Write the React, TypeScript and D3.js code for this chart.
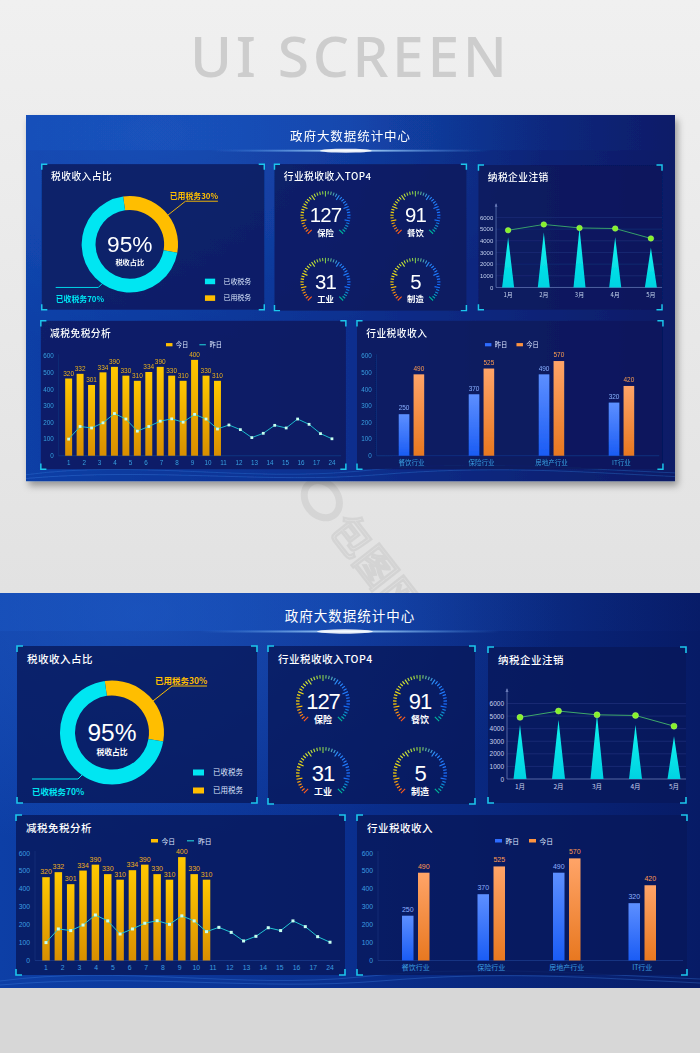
import React from 'react';
import * as d3 from 'd3';

// ---------- data ----------
const PAGE_TITLE = 'UI SCREEN';
const DASH_TITLE = '政府大数据统计中心';

const SHARE_NAMES = ['已用税务', '已收税务'];
const SHARE_VALUES = [30, 70];
const SHARE_CENTER = '95%';

const GAUGE_VALUES = [127, 91, 31, 5];
const GAUGE_LABELS = ['保险', '餐饮', '工业', '制造'];

const MONTHS = ['1月', '2月', '3月', '4月', '5月'];
const CANCEL_BARS = [4300, 4700, 5100, 4300, 3400];
const CANCEL_LINE = [4900, 5400, 5100, 5050, 4200];
const CANCEL_TICKS = [0, 1000, 2000, 3000, 4000, 5000, 6000];

const REDUCE_X_LABELS = ['1', '2', '3', '4', '5', '6', '7', '8', '9', '10', '11', '12', '13', '14', '15', '16', '17', '24'];
const REDUCE_TODAY = [465, 493, 426, 502, 535, 482, 451, 504, 535, 482, 451, 577, 482, 451];
const REDUCE_TODAY_LABELS = [320, 332, 301, 334, 390, 330, 310, 334, 390, 330, 310, 400, 330, 310];
const REDUCE_YESTERDAY = [100, 176, 167, 198, 254, 221, 148, 176, 208, 222, 202, 249, 221, 161, 185, 157, 109, 135, 183, 167, 221, 189, 133, 102];
const Y_TICKS = [0, 100, 200, 300, 400, 500, 600];

const INDUSTRIES = ['餐饮行业', '保险行业', '房地产行业', 'IT行业'];
const IND_YESTERDAY = [250, 370, 490, 320];
const IND_TODAY = [490, 525, 570, 420];

// ---------- helpers ----------
const CJK = '"Noto Sans CJK SC", "Noto Sans", sans-serif';
const NUM = '"Liberation Sans", Arial, sans-serif';
const CYAN = '#1cc6ec';

function Corners({ x0, y0, x1, y1 }: { x0: number; y0: number; x1: number; y1: number }) {
  const a = 6;
  const p = [
    `M${x0},${y0 + a}V${y0}H${x0 + a}`,
    `M${x1 - a},${y0}H${x1}V${y0 + a}`,
    `M${x0},${y1 - a}V${y1}H${x0 + a}`,
    `M${x1 - a},${y1}H${x1}V${y1 - a}`,
  ];
  return <path d={p.join('')} fill="none" stroke={CYAN} strokeWidth={1.6} />;
}

function Panel({ x0, y0, x1, y1, title }: { x0: number; y0: number; x1: number; y1: number; title: string }) {
  return (
    <g>
      <rect x={x0} y={y0} width={x1 - x0} height={y1 - y0} fill="#07185a" opacity={0.8} />
      <Corners x0={x0} y0={y0} x1={x1} y1={y1} />
      <text x={x0 + 10} y={y0 + 17} fill="#fff" fontSize={10.5} fontWeight={500} fontFamily={CJK} letterSpacing={0.5}>{title}</text>
    </g>
  );
}

function Donut() {
  const cx = 112, cy = 139.5;
  const pie = d3.pie<number>().sort(null).startAngle(-0.14).endAngle(-0.14 + Math.PI * 2);
  const arcs = pie(SHARE_VALUES);
  const arc = d3.arc<d3.PieArcDatum<number>>().innerRadius(37).outerRadius(52);
  const colors = ['#ffbe00', '#00e6f2'];
  return (
    <g>
      <g transform={`translate(${cx},${cy})`}>
        {arcs.map((a, i) => (
          <path key={i} d={arc(a) || ''} fill={colors[i]} />
        ))}
      </g>
      <text x={cx} y={147.5} textAnchor="middle" fill="#fff" fontSize={24.5} fontFamily={NUM}>{SHARE_CENTER}</text>
      <text x={cx} y={162} textAnchor="middle" fill="#fff" fontSize={7.8} fontWeight={700} fontFamily={CJK}>税收占比</text>
      <path d="M153,108L172,93H207" fill="none" stroke="#ffbe00" strokeWidth={1} />
      <text x={155} y={90.5} fill="#ffbe00" fontSize={8.5} fontWeight={700} fontFamily={CJK}>{`${SHARE_NAMES[0]}${SHARE_VALUES[0]}%`}</text>
      <path d="M82,182L78,186H32" fill="none" stroke="#00e6f2" strokeWidth={1} />
      <text x={32} y={202} fill="#00e6f2" fontSize={8.5} fontWeight={700} fontFamily={CJK}>{`${SHARE_NAMES[1]}${SHARE_VALUES[1]}%`}</text>
      {[1, 0].map((k, i) => (
        <g key={k}>
          <rect x={193} y={176.5 + i * 18} width={11} height={6} fill={colors[k]} />
          <text x={213} y={182 + i * 18} fill="#dfe6ff" fontSize={7.5} fontFamily={CJK}>{SHARE_NAMES[k]}</text>
        </g>
      ))}
    </g>
  );
}

function Gauge({ cx, cy, value, label }: { cx: number; cy: number; value: number; label: string }) {
  const n = 41;
  const ang = d3.scaleLinear().domain([0, n - 1]).range([-135, 135]);
  const col = d3.scaleLinear<string>()
    .domain([-135, -95, -40, 0, 35, 100, 135])
    .range(['#ff5a1e', '#ffcf00', '#d8e832', '#7fc24a', '#2a8cff', '#1a6cff', '#00b89a']);
  const R = 27;
  const ticks = d3.range(n).map((i) => {
    const a = ang(i);
    const len = i % 5 === 0 ? 6 : 3.5;
    const rad = (a * Math.PI) / 180;
    return {
      x1: cx + R * Math.sin(rad), y1: cy - R * Math.cos(rad),
      x2: cx + (R - len) * Math.sin(rad), y2: cy - (R - len) * Math.cos(rad),
      c: col(a),
    };
  });
  return (
    <g>
      {ticks.map((t, i) => (
        <line key={i} x1={t.x1} y1={t.y1} x2={t.x2} y2={t.y2} stroke={t.c} strokeWidth={1.2} />
      ))}
      <text x={cx} y={cy + 6.5} textAnchor="middle" fill="#fff" fontSize={22} fontFamily={NUM} letterSpacing={-1}>{value}</text>
      <text x={cx} y={cy + 21} textAnchor="middle" fill="#fff" fontSize={9} fontWeight={700} fontFamily={CJK}>{label}</text>
    </g>
  );
}

function Cancel() {
  const x = d3.scalePoint<string>().domain(MONTHS).range([520, 674]);
  const y = d3.scaleLinear().domain([0, 6000]).range([186, 110.5]);
  const line = d3.line<number>().x((d, i) => x(MONTHS[i]) as number).y((d) => y(d));
  return (
    <g>
      {CANCEL_TICKS.map((t) => (
        <g key={t}>
          {t > 0 && <line x1={507} x2={686} y1={y(t)} y2={y(t)} stroke="#1d2d78" strokeWidth={0.8} />}
          <text x={504} y={y(t) + 2.5} textAnchor="end" fill="#c9d2ee" fontSize={6.5} fontFamily={NUM}>{t}</text>
        </g>
      ))}
      <line x1={507} x2={507} y1={96} y2={186} stroke="#6b7cb8" strokeWidth={0.8} />
      <path d="M505.5,99L507,95L508.5,99Z" fill="#6b7cb8" />
      <line x1={507} x2={686} y1={186} y2={186} stroke="#6b7cb8" strokeWidth={0.8} />
      {CANCEL_BARS.map((v, i) => {
        const cx = x(MONTHS[i]) as number;
        return <path key={i} d={`M${cx - 6.5},${y(0)}L${cx},${y(v)}L${cx + 6.5},${y(0)}Z`} fill="url(#triGrad)" />;
      })}
      <path d={line(CANCEL_LINE) || ''} fill="none" stroke="#3ea86a" strokeWidth={1} />
      {CANCEL_LINE.map((v, i) => (
        <circle key={i} cx={x(MONTHS[i]) as number} cy={y(v)} r={3} fill="#86f22a" stroke="#b8ff70" strokeWidth={0.5} />
      ))}
      {MONTHS.map((m) => (
        <text key={m} x={x(m) as number} y={196} textAnchor="middle" fill="#c9d2ee" fontSize={6.5} fontFamily={CJK}>{m}</text>
      ))}
    </g>
  );
}

function Reduce() {
  const ids = REDUCE_YESTERDAY.map((_, i) => String(i + 1));
  const x = d3.scalePoint<string>().domain(ids).range([46, 330]);
  const xl = d3.scalePoint<string>().domain(REDUCE_X_LABELS).range([46, 330]);
  const y = d3.scaleLinear().domain([0, 600]).range([367.5, 260]);
  const line = d3.line<number>().x((d, i) => x(ids[i]) as number).y((d) => y(d));
  const bw = 7.5;
  return (
    <g>
      {Y_TICKS.map((t) => (
        <text key={t} x={30} y={y(t) + 2.5} textAnchor="end" fill="#3d9ee0" fontSize={6.8} fontFamily={NUM}>{t}</text>
      ))}
      <line x1={35} x2={35} y1={258} y2={367.5} stroke="#16307a" strokeWidth={0.8} />
      <line x1={35} x2={340} y1={367.5} y2={367.5} stroke="#1a3a8a" strokeWidth={0.8} />
      {REDUCE_TODAY.map((v, i) => {
        const cx = x(ids[i]) as number;
        return (
          <g key={i}>
            <rect x={cx - bw / 2} y={y(v)} width={bw} height={y(0) - y(v)} fill="url(#yellowGrad)" />
            <text x={cx} y={y(v) - 3} textAnchor="middle" fill="#f0ae1c" fontSize={7} fontFamily={NUM}>{REDUCE_TODAY_LABELS[i]}</text>
          </g>
        );
      })}
      <path d={line(REDUCE_YESTERDAY) || ''} fill="none" stroke="#22c6d2" strokeWidth={1} />
      {REDUCE_YESTERDAY.map((v, i) => (
        <rect key={i} x={(x(ids[i]) as number) - 1.5} y={y(v) - 1.5} width={3} height={3} fill="#c8fff0" />
      ))}
      {REDUCE_X_LABELS.map((l) => (
        <text key={l} x={xl(l) as number} y={377} textAnchor="middle" fill="#3d9ee0" fontSize={6.8} fontFamily={NUM}>{l}</text>
      ))}
      <rect x={151} y={246} width={7} height={3.5} fill="#ffbe00" />
      <text x={161.5} y={250.5} fill="#dfe6ff" fontSize={6.8} fontFamily={CJK}>今日</text>
      <line x1={187} x2={194} y1={247.8} y2={247.8} stroke="#22c6d2" strokeWidth={1.2} />
      <text x={198} y={250.5} fill="#dfe6ff" fontSize={6.8} fontFamily={CJK}>昨日</text>
    </g>
  );
}

function Industry() {
  const x = d3.scaleBand<string>().domain(INDUSTRIES).range([378, 680]);
  const y = d3.scaleLinear().domain([0, 600]).range([367.5, 260]);
  const bw = 11.5, off = 8;
  return (
    <g>
      {Y_TICKS.map((t) => (
        <text key={t} x={373} y={y(t) + 2.5} textAnchor="end" fill="#3d9ee0" fontSize={6.8} fontFamily={NUM}>{t}</text>
      ))}
      <line x1={378} x2={378} y1={258} y2={367.5} stroke="#16307a" strokeWidth={0.8} />
      <line x1={378} x2={683} y1={367.5} y2={367.5} stroke="#1a3a8a" strokeWidth={0.8} />
      {INDUSTRIES.map((c, i) => {
        const cx = (x(c) as number) + x.bandwidth() / 2;
        const vy = IND_YESTERDAY[i], vt = IND_TODAY[i];
        return (
          <g key={c}>
            <rect x={cx - off - bw / 2} y={y(vy)} width={bw} height={y(0) - y(vy)} fill="url(#blueGrad)" />
            <text x={cx - off} y={y(vy) - 4} textAnchor="middle" fill="#8fb0ff" fontSize={7} fontFamily={NUM}>{vy}</text>
            <rect x={cx + off - bw / 2} y={y(vt)} width={bw} height={y(0) - y(vt)} fill="url(#orangeGrad)" />
            <text x={cx + off} y={y(vt) - 4} textAnchor="middle" fill="#ff9a52" fontSize={7} fontFamily={NUM}>{vt}</text>
            <text x={cx} y={377} textAnchor="middle" fill="#3d9ee0" fontSize={7} fontFamily={CJK}>{c}</text>
          </g>
        );
      })}
      <rect x={495} y={246} width={7} height={3.5} fill="#2d6cff" />
      <text x={505.5} y={250.5} fill="#dfe6ff" fontSize={6.8} fontFamily={CJK}>昨日</text>
      <rect x={529} y={246} width={7} height={3.5} fill="#ff9440" />
      <text x={539.5} y={250.5} fill="#dfe6ff" fontSize={6.8} fontFamily={CJK}>今日</text>
    </g>
  );
}

function Dashboard() {
  return (
    <g>
      <rect x={0} y={0} width={700} height={395} fill="url(#dashBg)" />
      <rect x={0} y={0} width={700} height={395} fill="url(#dashGlow)" />
      <rect x={0} y={0} width={700} height={38} fill="url(#headBg)" />
      <rect x={200} y={37.5} width={300} height={2} fill="url(#lineGlow)" />
      <ellipse cx={345} cy={38.5} rx={28} ry={2.2} fill="#ffffff" opacity={0.85} />
      <text x={350} y={28} textAnchor="middle" fill="#fff" fontSize={13.5} fontFamily={CJK} letterSpacing={1}>{DASH_TITLE}</text>
      <path d="M0,388 C120,372 240,396 360,384 S560,380 700,386" fill="none" stroke="#3b7fe0" strokeWidth={1} opacity={0.35} />
      <path d="M0,392 C140,380 260,398 380,388 S580,384 700,390" fill="none" stroke="#4a90f0" strokeWidth={1} opacity={0.3} />
      <Panel x0={17} y0={53} x1={257} y1={210} title="税收收入占比" />
      <Panel x0={268} y0={53} x1={475} y1={211} title="行业税收收入TOP4" />
      <Panel x0={488} y0={54} x1={686} y1={210} title="纳税企业注销" />
      <Panel x0={16} y0={222} x1={345} y1={382} title="减税免税分析" />
      <Panel x0={357} y0={222} x1={687} y1={382} title="行业税收收入" />
      <Donut />
      {GAUGE_VALUES.map((v, i) => (
        <Gauge key={i} cx={i % 2 === 0 ? 323 : 420} cy={i < 2 ? 109 : 181} value={v} label={GAUGE_LABELS[i]} />
      ))}
      <Cancel />
      <Reduce />
      <Industry />
    </g>
  );
}

export default function App() {
  const s = 649 / 700;
  return (
    <svg width={700} height={1053} style={{ position: 'absolute', left: 0, top: 0 }} xmlns="http://www.w3.org/2000/svg">
      <defs>
        <linearGradient id="pageBg" x1="0" y1="0" x2="0" y2="1">
          <stop offset="0" stopColor="#f0f0f0" />
          <stop offset="1" stopColor="#e2e2e2" />
        </linearGradient>
        <linearGradient id="dashBg" x1="0" y1="0" x2="1" y2="0">
          <stop offset="0" stopColor="#0d3fa6" />
          <stop offset="0.5" stopColor="#0a2f8e" />
          <stop offset="1" stopColor="#071b66" />
        </linearGradient>
        <radialGradient id="dashGlow" cx="0.2" cy="0.05" r="0.6">
          <stop offset="0" stopColor="#2a66d0" stopOpacity="0.45" />
          <stop offset="1" stopColor="#2a66d0" stopOpacity="0" />
        </radialGradient>
        <linearGradient id="headBg" x1="0" y1="0" x2="1" y2="0">
          <stop offset="0" stopColor="#1a55c0" stopOpacity="0.5" />
          <stop offset="0.5" stopColor="#1b5ccc" stopOpacity="0.35" />
          <stop offset="1" stopColor="#0a1f70" stopOpacity="0.2" />
        </linearGradient>
        <linearGradient id="lineGlow" x1="0" y1="0" x2="1" y2="0">
          <stop offset="0" stopColor="#4aa0ff" stopOpacity="0" />
          <stop offset="0.5" stopColor="#bfe6ff" stopOpacity="1" />
          <stop offset="1" stopColor="#4aa0ff" stopOpacity="0" />
        </linearGradient>
        <linearGradient id="triGrad" x1="0" y1="0" x2="0" y2="1">
          <stop offset="0" stopColor="#10f4ee" />
          <stop offset="1" stopColor="#00d2e2" />
        </linearGradient>
        <linearGradient id="yellowGrad" x1="0" y1="0" x2="0" y2="1">
          <stop offset="0" stopColor="#ffc800" />
          <stop offset="1" stopColor="#d88e00" />
        </linearGradient>
        <linearGradient id="blueGrad" x1="0" y1="0" x2="0" y2="1">
          <stop offset="0" stopColor="#5d8fff" />
          <stop offset="1" stopColor="#1a5cf5" />
        </linearGradient>
        <linearGradient id="orangeGrad" x1="0" y1="0" x2="0" y2="1">
          <stop offset="0" stopColor="#ffa468" />
          <stop offset="1" stopColor="#e87820" />
        </linearGradient>
        <filter id="shadow" x="-5%" y="-5%" width="115%" height="120%">
          <feDropShadow dx="3" dy="5" stdDeviation="4" floodColor="#000" floodOpacity="0.35" />
        </filter>
      </defs>
      <rect x={0} y={0} width={700} height={593} fill="url(#pageBg)" />
      <rect x={0} y={593} width={700} height={460} fill="#d7d7d7" />
      <text x={190} y={77} fill="#cdcdcd" fontSize={57} fontWeight={500} fontFamily='"Noto Sans", sans-serif' textLength={317} lengthAdjust="spacing">{PAGE_TITLE}</text>
      <g opacity={0.28} transform="translate(360,548) rotate(52)">
        <ellipse cx={-62} cy={0} rx={20} ry={16} fill="none" stroke="#b0b0b0" strokeWidth={7} />
        <text x={-35} y={14} fill="none" stroke="#b0b0b0" strokeWidth={2.5} fontSize={40} fontFamily={CJK}>包图网</text>
      </g>
      <g transform={`translate(26,115) scale(${s})`} filter="url(#shadow)">
        <Dashboard />
      </g>
      <g transform="translate(0,593)">
        <Dashboard />
      </g>
    </svg>
  );
}
